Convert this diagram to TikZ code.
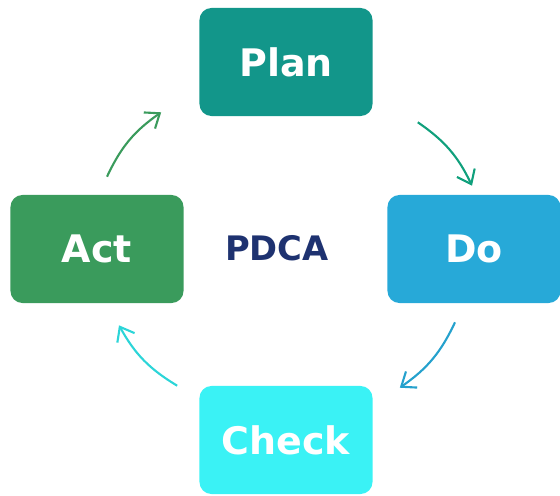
\documentclass[tikz,border=0pt]{standalone}
\usepackage{fontspec}
\setmainfont{DejaVu Sans}
\usetikzlibrary{arrows.meta,positioning}

\definecolor{planC}{HTML}{12968A}
\definecolor{doC}{HTML}{27A9D8}
\definecolor{checkC}{HTML}{3AF2F5}
\definecolor{actC}{HTML}{3A9B5C}
\definecolor{pdcaC}{HTML}{1E3270}

\begin{document}
\begin{tikzpicture}[x=0.025cm,y=0.025cm,
    every node/.style={font=\bfseries\fontsize{27}{31}\selectfont},
    phase/.style={rounded corners=0.3cm,minimum width=4.325cm,minimum height=2.7cm,text=white,inner sep=0pt},
    flow/.style={line width=1.5pt,-{Straight Barb[length=9pt,width=14pt,line width=1.5pt]},bend left=15}]
      \useasboundingbox (0,0) rectangle (560,-495);
      \node[phase,fill=planC](Plan)   at (286,-62)  {Plan};
      \node[phase,fill=doC](Do)       at (474,-249) {Do};
      \node[phase,fill=checkC](Check) at (286,-440) {Check};
      \node[phase,fill=actC](Act)     at (97,-249)  {Act};
      \node[text=pdcaC,font=\bfseries\fontsize{24}{28}\selectfont](PDCA) at (277,-248) {PDCA};

      \draw[flow,color=planC!90!green]  ([shift={(45,-6)}]Plan.south east)  to ([shift={(-2,9)}]Do.north);
      \draw[flow,color=doC!95!black]    ([shift={(-19,-19)}]Do.south)       to ([shift={(27,-2)}]Check.north east);
      \draw[flow,color=checkC!75!teal]  ([shift={(-22,0)}]Check.north west) to ([shift={(22,-22)}]Act.south);
      \draw[flow,color=actC]            ([shift={(10,18)}]Act.north)        to ([shift={(-38,4)}]Plan.south west);
\end{tikzpicture}
\end{document}
